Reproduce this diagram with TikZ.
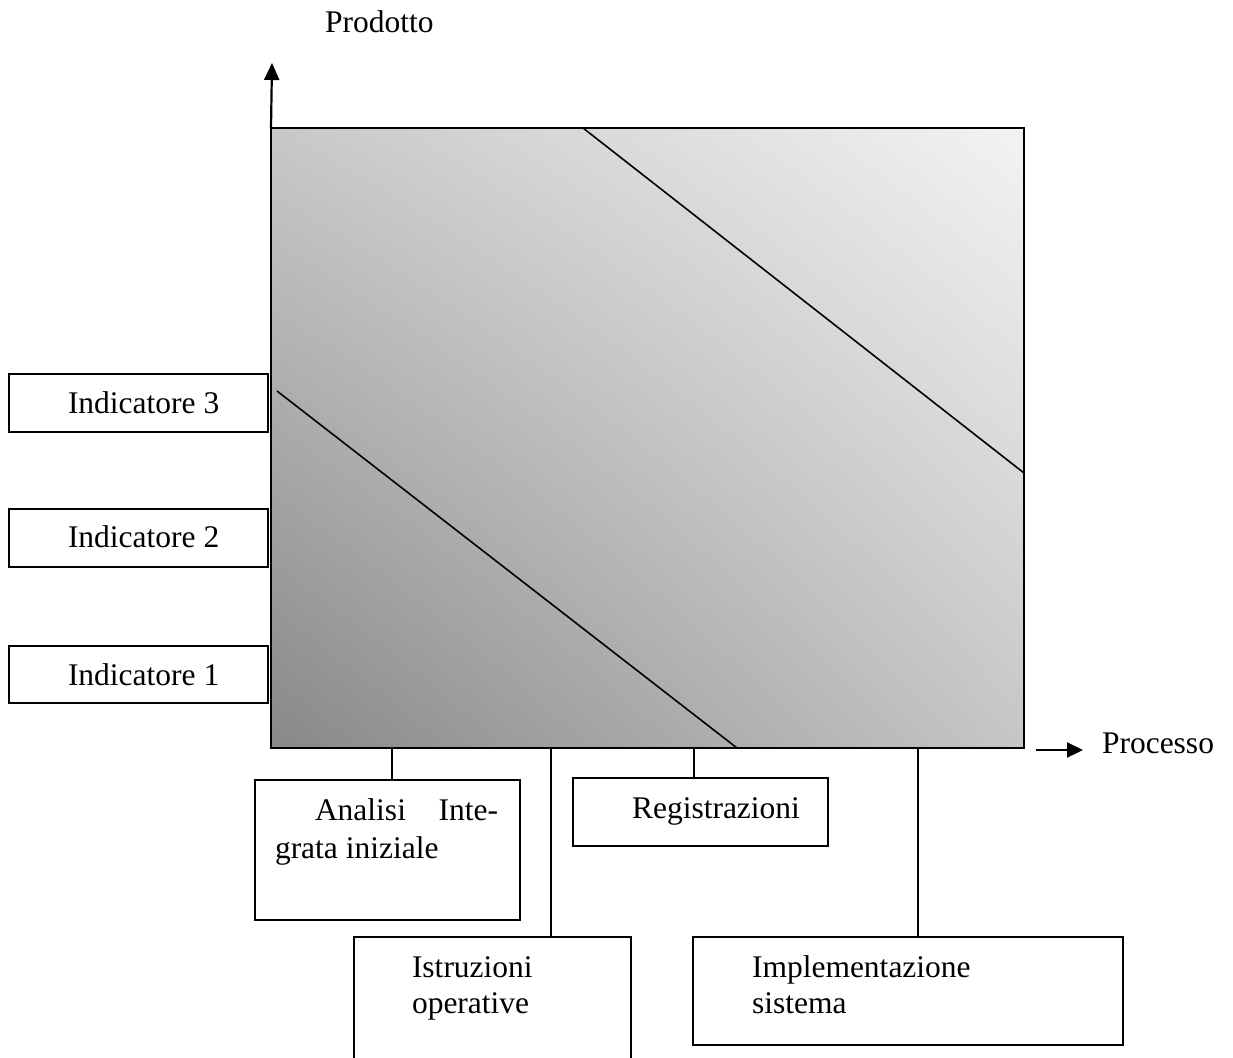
\documentclass[tikz,border=0pt]{standalone}
\usepackage{fontspec}
\setmainfont{Liberation Serif}
\usetikzlibrary{arrows.meta,shadings}
\definecolor{cLL}{RGB}{136,136,136}
\definecolor{cUR}{RGB}{243,243,243}
\definecolor{cUL}{RGB}{200,200,200}
\definecolor{cLR}{RGB}{198,198,198}
\tikzset{
  box/.style={draw=black, line width=1.6pt, fill=white, inner sep=0pt, outer sep=0pt},
  lbl/.style={anchor=base west, inner sep=0pt, outer sep=0pt, font=\fontsize{31.5}{37}\selectfont},
  conn/.style={draw=black, line width=1.6pt},
  diag/.style={draw=black, line width=1.6pt},
  axis/.style={draw=black, line width=2.2pt}
}
\begin{document}
\begin{tikzpicture}[x=1pt,y=-1pt]
\useasboundingbox (0,0) rectangle (1233,1057);
% main shaded rectangle
\shade[lower left=cLL, upper right=cUR, upper left=cUL, lower right=cLR]
  (271,128) rectangle (1024,748);
\node[draw=black, line width=1.6pt, inner sep=0pt, outer sep=0pt, minimum width=753, minimum height=620] (main) at (647.5,438) {};
% diagonal lines
\draw[diag] (277,391) -- (737,748);
\draw[diag] (583,128) -- (1024,473);
% axes
\coordinate (ytip) at (272,63);
\draw[axis, -{Triangle[length=17pt,width=15pt]}] (main.north west) -- (ytip);
\coordinate (xa) at (1036,750);
\coordinate (xb) at (1083,750);
\draw[axis, -{Triangle[length=16pt,width=15pt]}] (xa) -- (xb);
\node[lbl] (prodotto) at (325,33) {Prodotto};
\node[lbl] (processo) at (1102,753) {Processo};
% indicator boxes
\node[box, minimum width=259, minimum height=58] (ind3) at (138.5,403) {};
\node[box, minimum width=259, minimum height=58] (ind2) at (138.5,538) {};
\node[box, minimum width=259, minimum height=57] (ind1) at (138.5,674.5) {};
\node[lbl] (ind3t) at (68,413) {Indicatore 3};
\node[lbl] (ind2t) at (68,547) {Indicatore 2};
\node[lbl] (ind1t) at (68,685) {Indicatore 1};
% bottom boxes
\node[box, minimum width=265, minimum height=140] (analisi) at (387.5,850) {};
\node[box, minimum width=255, minimum height=68] (reg) at (700.5,812) {};
\node[box, minimum width=277, minimum height=140] (istr) at (492.5,1007) {};
\node[box, minimum width=430, minimum height=108] (impl) at (908,991) {};
% connectors
\draw[conn] ([xshift=4.5pt]analisi.north |- main.south) -- ([xshift=4.5pt]analisi.north);
\draw[conn] ([xshift=-6.5pt]reg.north |- main.south) -- ([xshift=-6.5pt]reg.north);
\draw[conn] ([xshift=58.5pt]istr.north |- main.south) -- ([xshift=58.5pt]istr.north);
\draw[conn] ([xshift=10pt]impl.north |- main.south) -- ([xshift=10pt]impl.north);
% labels
\node[lbl] (analisit1) at (315,820) {\makebox[183pt][l]{Analisi\hfill Inte-}};
\node[lbl] (analisit2) at (275,858) {grata iniziale};
\node[lbl] (regt) at (632,818) {Registrazioni};
\node[lbl] (istrt1) at (412,977) {Istruzioni};
\node[lbl] (istrt2) at (412,1013) {operative};
\node[lbl] (implt1) at (752,977) {Implementazione};
\node[lbl] (implt2) at (752,1013) {sistema};
\end{tikzpicture}
\end{document}
